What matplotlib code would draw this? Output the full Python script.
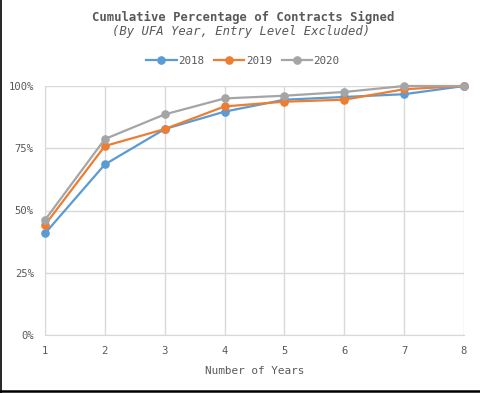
import numpy as np
import matplotlib.pyplot as plt
from matplotlib.lines import Line2D
from matplotlib.ticker import PercentFormatter

# values (percent of contracts signed)
years = [1, 2, 3, 4, 5, 6, 7, 8]
pct_2018 = [40.8, 68.5, 82.7, 89.7, 94.5, 95.6, 96.7, 100.0]
pct_2019 = [44.2, 75.9, 82.7, 91.8, 93.7, 94.5, 98.7, 100.0]
pct_2020 = [46.2, 78.7, 88.6, 95.0, 96.1, 97.6, 100.0, 100.0]
series_names = ['2018', '2019', '2020']
y_ticks = [0, 25, 50, 75, 100]

colors = ['#5b9bd5', '#ed7d31', '#a5a5a5']
txt = '#595959'
grid_col = '#d9d9d9'

plt.rcParams['font.family'] = ['DejaVu Sans Mono', 'DejaVu Sans']

W, H = 481, 393
fig = plt.figure(figsize=(W/100, H/100), dpi=100)
ax = fig.add_axes([45/W, (H-335)/H, (464-45)/W, (335-86)/H])

for vals, name, c in zip([pct_2018, pct_2019, pct_2020], series_names, colors):
    ax.plot(years, vals, color=c, lw=1.6, marker='o', ms=5.2, label=name,
            clip_on=False, zorder=3)

ax.set_xlim(1, 8)
ax.set_ylim(0, 100)
ax.set_xticks(years)
ax.set_yticks(y_ticks)
ax.yaxis.set_major_formatter(PercentFormatter(decimals=0))
ax.grid(True, color=grid_col, lw=1)
ax.set_axisbelow(True)
for s in ['top', 'right']:
    ax.spines[s].set_visible(False)
for s in ['left', 'bottom']:
    ax.spines[s].set_color(grid_col)
ax.tick_params(length=0, labelsize=7.6, labelcolor=txt)
ax.tick_params(axis='y', pad=8)
ax.tick_params(axis='x', pad=8)
ax.set_xlabel('Number of Years', fontsize=7.9, color=txt, labelpad=7)

fig.text(243/W, 1-17/H, 'Cumulative Percentage of Contracts Signed', ha='center', va='center',
         fontsize=8.8, fontweight='bold', color=txt)
fig.text(241/W, 1-32/H, '(By UFA Year, Entry Level Excluded)', ha='center', va='center',
         fontsize=8.8, style='italic', color=txt)

fig.legend(loc='center', bbox_to_anchor=(243/W, 1-61/H), ncol=3, frameon=False,
           fontsize=7.8, labelcolor=txt, handlelength=2.8, handletextpad=0.15,
           columnspacing=0.9, borderpad=0.2)

# screenshot frame on left and bottom edge
fig.add_artist(Line2D([0.5/W, 0.5/W], [0, 1], color='black', lw=1.2, transform=fig.transFigure))
fig.add_artist(Line2D([0, 1], [2/H, 2/H], color='black', lw=1.8, transform=fig.transFigure))

fig.savefig('out.png', dpi=100)
